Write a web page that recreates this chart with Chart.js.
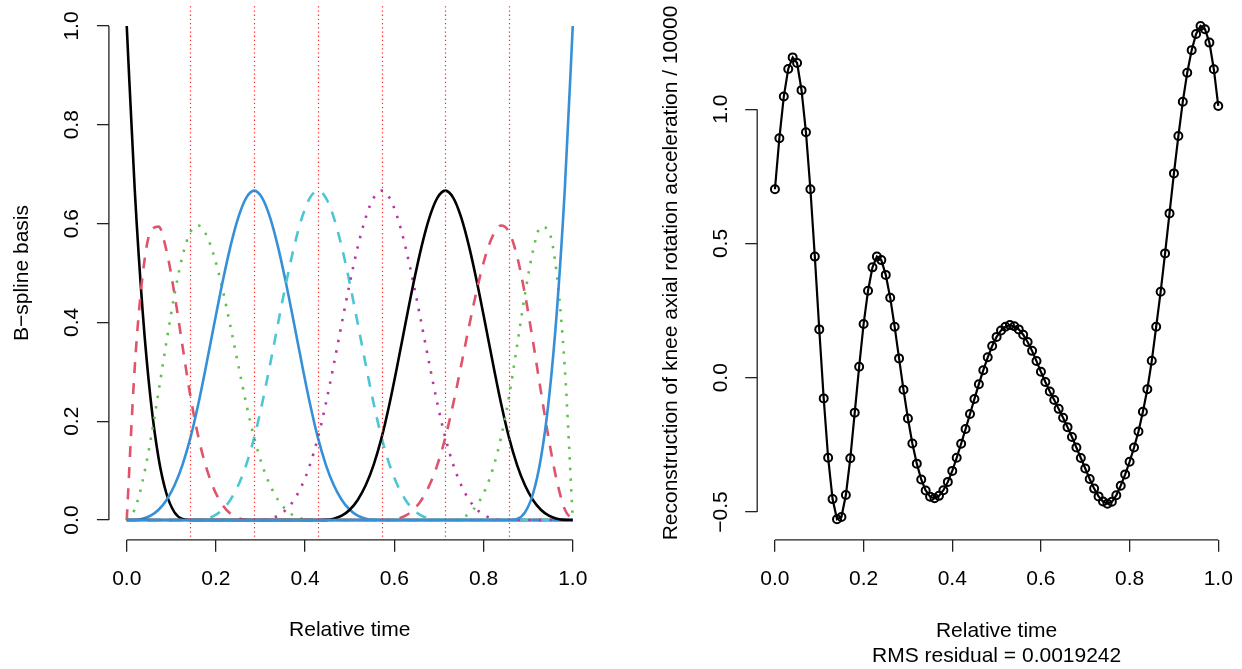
<!DOCTYPE html>
<html>
<head>
<meta charset="utf-8">
<title>B-spline basis / reconstruction</title>
<script src="https://cdn.jsdelivr.net/npm/chart.js@4.4.1/dist/chart.umd.min.js"></script>
<style>
  html, body { margin: 0; padding: 0; background: #fff; }
  #wrap { position: relative; width: 1242px; height: 669px; overflow: hidden; background: #fff; }
  canvas { position: absolute; top: 0; }
  #basis { left: 0; }
  #recon { left: 621px; }
</style>
</head>
<body>
<div id="wrap">
  <canvas id="basis" width="621" height="669"></canvas>
  <canvas id="recon" width="621" height="669"></canvas>
</div>
<script>
//---------------------------------------- LEFT PANEL: B-SPLINE BASIS ----------------------------------------
// evaluation grid (relative time)
const timeGrid = [
  0, 0.017857, 0.035714, 0.053571, 0.071429, 0.089286, 0.107143, 0.125,
  0.142857, 0.160714, 0.178571, 0.196429, 0.214286, 0.232143, 0.25, 0.267857,
  0.285714, 0.303571, 0.321429, 0.339286, 0.357143, 0.375, 0.392857, 0.410714,
  0.428571, 0.446429, 0.464286, 0.482143, 0.5, 0.517857, 0.535714, 0.553571,
  0.571429, 0.589286, 0.607143, 0.625, 0.642857, 0.660714, 0.678571, 0.696429,
  0.714286, 0.732143, 0.75, 0.767857, 0.785714, 0.803571, 0.821429, 0.839286,
  0.857143, 0.875, 0.892857, 0.910714, 0.928571, 0.946429, 0.964286, 0.982143,
  1
]

const basis1 = [
  1, 0.6699, 0.4219, 0.2441, 0.125, 0.0527, 0.0156, 0.002,
  0, 0, 0, 0, 0, 0, 0, 0,
  0, 0, 0, 0, 0, 0, 0, 0,
  0, 0, 0, 0, 0, 0, 0, 0,
  0, 0, 0, 0, 0, 0, 0, 0,
  0, 0, 0, 0, 0, 0, 0, 0,
  0, 0, 0, 0, 0, 0, 0, 0,
  0
]
const basis2 = [
  0, 0.3081, 0.4961, 0.5845, 0.5938, 0.5444, 0.457, 0.3521,
  0.25, 0.1675, 0.1055, 0.061, 0.0313, 0.0132, 0.0039, 0.0005,
  0, 0, 0, 0, 0, 0, 0, 0,
  0, 0, 0, 0, 0, 0, 0, 0,
  0, 0, 0, 0, 0, 0, 0, 0,
  0, 0, 0, 0, 0, 0, 0, 0,
  0, 0, 0, 0, 0, 0, 0, 0,
  0
]
const basis3 = [
  0, 0.0216, 0.0794, 0.1626, 0.2604, 0.3621, 0.457, 0.5343,
  0.5833, 0.5962, 0.5768, 0.5321, 0.4688, 0.3937, 0.3138, 0.2358,
  0.1667, 0.1117, 0.0703, 0.0407, 0.0208, 0.0088, 0.0026, 0.0003,
  0, 0, 0, 0, 0, 0, 0, 0,
  0, 0, 0, 0, 0, 0, 0, 0,
  0, 0, 0, 0, 0, 0, 0, 0,
  0, 0, 0, 0, 0, 0, 0, 0,
  0
]
const basis4 = [
  0, 0.0003, 0.0026, 0.0088, 0.0208, 0.0407, 0.0703, 0.1117,
  0.1667, 0.236, 0.3151, 0.3981, 0.4792, 0.5524, 0.612, 0.652,
  0.6667, 0.652, 0.612, 0.5524, 0.4792, 0.3981, 0.3151, 0.236,
  0.1667, 0.1117, 0.0703, 0.0407, 0.0208, 0.0088, 0.0026, 0.0003,
  0, 0, 0, 0, 0, 0, 0, 0,
  0, 0, 0, 0, 0, 0, 0, 0,
  0, 0, 0, 0, 0, 0, 0, 0,
  0
]
const basis5 = [
  0, 0, 0, 0, 0, 0, 0, 0,
  0, 0.0003, 0.0026, 0.0088, 0.0208, 0.0407, 0.0703, 0.1117,
  0.1667, 0.236, 0.3151, 0.3981, 0.4792, 0.5524, 0.612, 0.652,
  0.6667, 0.652, 0.612, 0.5524, 0.4792, 0.3981, 0.3151, 0.236,
  0.1667, 0.1117, 0.0703, 0.0407, 0.0208, 0.0088, 0.0026, 0.0003,
  0, 0, 0, 0, 0, 0, 0, 0,
  0, 0, 0, 0, 0, 0, 0, 0,
  0
]
const basis6 = [
  0, 0, 0, 0, 0, 0, 0, 0,
  0, 0, 0, 0, 0, 0, 0, 0,
  0, 0.0003, 0.0026, 0.0088, 0.0208, 0.0407, 0.0703, 0.1117,
  0.1667, 0.236, 0.3151, 0.3981, 0.4792, 0.5524, 0.612, 0.652,
  0.6667, 0.652, 0.612, 0.5524, 0.4792, 0.3981, 0.3151, 0.236,
  0.1667, 0.1117, 0.0703, 0.0407, 0.0208, 0.0088, 0.0026, 0.0003,
  0, 0, 0, 0, 0, 0, 0, 0,
  0
]
const basis7 = [
  0, 0, 0, 0, 0, 0, 0, 0,
  0, 0, 0, 0, 0, 0, 0, 0,
  0, 0, 0, 0, 0, 0, 0, 0,
  0, 0.0003, 0.0026, 0.0088, 0.0208, 0.0407, 0.0703, 0.1117,
  0.1667, 0.236, 0.3151, 0.3981, 0.4792, 0.5524, 0.612, 0.652,
  0.6667, 0.652, 0.612, 0.5524, 0.4792, 0.3981, 0.3151, 0.236,
  0.1667, 0.1117, 0.0703, 0.0407, 0.0208, 0.0088, 0.0026, 0.0003,
  0
]
const basis8 = [
  0, 0, 0, 0, 0, 0, 0, 0,
  0, 0, 0, 0, 0, 0, 0, 0,
  0, 0, 0, 0, 0, 0, 0, 0,
  0, 0, 0, 0, 0, 0, 0, 0,
  0, 0.0003, 0.0026, 0.0088, 0.0208, 0.0407, 0.0703, 0.1117,
  0.1667, 0.2358, 0.3138, 0.3937, 0.4688, 0.5321, 0.5768, 0.5962,
  0.5833, 0.5343, 0.457, 0.3621, 0.2604, 0.1626, 0.0794, 0.0216,
  0
]
const basis9 = [
  0, 0, 0, 0, 0, 0, 0, 0,
  0, 0, 0, 0, 0, 0, 0, 0,
  0, 0, 0, 0, 0, 0, 0, 0,
  0, 0, 0, 0, 0, 0, 0, 0,
  0, 0, 0, 0, 0, 0, 0, 0,
  0, 0.0005, 0.0039, 0.0132, 0.0313, 0.061, 0.1055, 0.1675,
  0.25, 0.3521, 0.457, 0.5444, 0.5938, 0.5845, 0.4961, 0.3081,
  0
]
const basis10 = [
  0, 0, 0, 0, 0, 0, 0, 0,
  0, 0, 0, 0, 0, 0, 0, 0,
  0, 0, 0, 0, 0, 0, 0, 0,
  0, 0, 0, 0, 0, 0, 0, 0,
  0, 0, 0, 0, 0, 0, 0, 0,
  0, 0, 0, 0, 0, 0, 0, 0,
  0, 0.002, 0.0156, 0.0527, 0.125, 0.2441, 0.4219, 0.6699,
  1
]
const basisSeries = [basis1, basis2, basis3, basis4, basis5, basis6, basis7, basis8, basis9, basis10]

// interior knots (red dotted verticals)
const knots = [0.142857, 0.285714, 0.428571, 0.571429, 0.714286, 0.857143]

const timeTicks = [0, 0.2, 0.4, 0.6, 0.8, 1]
const timeTickLabels = ['0.0', '0.2', '0.4', '0.6', '0.8', '1.0']
const basisTicks = [0, 0.2, 0.4, 0.6, 0.8, 1]
const basisTickLabels = ['0.0', '0.2', '0.4', '0.6', '0.8', '1.0']

//---------------------------------------- RIGHT PANEL: RECONSTRUCTION ----------------------------------------
const reconTime = [
  0.00, 0.01, 0.02, 0.03, 0.04, 0.05, 0.06, 0.07, 0.08, 0.09,
  0.10, 0.11, 0.12, 0.13, 0.14, 0.15, 0.16, 0.17, 0.18, 0.19,
  0.20, 0.21, 0.22, 0.23, 0.24, 0.25, 0.26, 0.27, 0.28, 0.29,
  0.30, 0.31, 0.32, 0.33, 0.34, 0.35, 0.36, 0.37, 0.38, 0.39,
  0.40, 0.41, 0.42, 0.43, 0.44, 0.45, 0.46, 0.47, 0.48, 0.49,
  0.50, 0.51, 0.52, 0.53, 0.54, 0.55, 0.56, 0.57, 0.58, 0.59,
  0.60, 0.61, 0.62, 0.63, 0.64, 0.65, 0.66, 0.67, 0.68, 0.69,
  0.70, 0.71, 0.72, 0.73, 0.74, 0.75, 0.76, 0.77, 0.78, 0.79,
  0.80, 0.81, 0.82, 0.83, 0.84, 0.85, 0.86, 0.87, 0.88, 0.89,
  0.90, 0.91, 0.92, 0.93, 0.94, 0.95, 0.96, 0.97, 0.98, 0.99,
  1.00
]
const reconValues = [
  0.702, 0.892, 1.047, 1.150, 1.193, 1.172, 1.071, 0.914, 0.702, 0.451,
  0.180, -0.077, -0.298, -0.452, -0.527, -0.519, -0.437, -0.300, -0.130, 0.041,
  0.200, 0.324, 0.411, 0.451, 0.438, 0.383, 0.298, 0.190, 0.072, -0.045,
  -0.152, -0.245, -0.320, -0.379, -0.420, -0.443, -0.449, -0.440, -0.419, -0.388,
  -0.347, -0.298, -0.246, -0.191, -0.135, -0.079, -0.024, 0.028, 0.076, 0.118,
  0.152, 0.176, 0.190, 0.196, 0.192, 0.180, 0.160, 0.133, 0.100, 0.062,
  0.022, -0.016, -0.051, -0.083, -0.116, -0.149, -0.184, -0.221, -0.260, -0.299,
  -0.338, -0.377, -0.413, -0.442, -0.461, -0.469, -0.462, -0.438, -0.402, -0.360,
  -0.313, -0.260, -0.200, -0.127, -0.043, 0.063, 0.190, 0.320, 0.463, 0.612,
  0.761, 0.900, 1.028, 1.136, 1.220, 1.280, 1.310, 1.298, 1.248, 1.149,
  1.012
]
const reconTicks = [-0.5, 0, 0.5, 1]
const reconTickLabels = ['\u22120.5', '0.0', '0.5', '1.0']
const reconYMin = -0.6036
const reconYMax = 1.3836

//---------------------------------------- STYLE ----------------------------------------
const FONT = "'Liberation Sans', Arial, Helvetica, sans-serif"
Chart.defaults.font.family = FONT
Chart.defaults.font.size = 21
Chart.defaults.color = '#000'

const seriesColors = ['#000000', '#DF536B', '#61C04F', '#3590D8', '#4CC6D2', '#B8379F']
const seriesDash = [[], [11, 10], [2.4, 8.2]]

// R-style axis line: only from first to last tick
const rAxes = {
  id: 'rAxes',
  afterDraw(chart) {
    const { ctx, chartArea } = chart
    const x = chart.scales.x
    const y = chart.scales.y
    const xs = x.ticks.map(t => x.getPixelForValue(t.value))
    const ys = y.ticks.map(t => y.getPixelForValue(t.value))
    ctx.save()
    ctx.strokeStyle = '#222'
    ctx.lineWidth = 1.3
    ctx.beginPath()
    ctx.moveTo(xs[0], chartArea.bottom)
    ctx.lineTo(xs[xs.length - 1], chartArea.bottom)
    ctx.moveTo(chartArea.left, ys[0])
    ctx.lineTo(chartArea.left, ys[ys.length - 1])
    ctx.stroke()
    ctx.restore()
  }
}

// knot positions as dotted red verticals over the plot region
const knotLines = {
  id: 'knotLines',
  afterDatasetsDraw(chart) {
    const { ctx, chartArea } = chart
    const x = chart.scales.x
    ctx.save()
    ctx.strokeStyle = '#FF2A2A'
    ctx.lineWidth = 1.2
    ctx.setLineDash([1.3, 2.9])
    knots.forEach(k => {
      const px = Math.round(x.getPixelForValue(k)) + 0.5
      ctx.beginPath()
      ctx.moveTo(px, chartArea.top)
      ctx.lineTo(px, chartArea.bottom)
      ctx.stroke()
    })
    ctx.restore()
  }
}

// scale boxes get a fixed size and no extra label padding, so the plot region sits where R put it
function fixBox(s, w, h) {
  if (w !== null) s.width = w
  if (h !== null) s.height = h
  s.paddingTop = 0
  s.paddingBottom = 0
  s.paddingLeft = 0
  s.paddingRight = 0
}

function axisX(ticks, labels, title, titlePad, height) {
  return {
    type: 'linear',
    position: 'bottom',
    min: -0.04,
    max: 1.04,
    afterBuildTicks: s => { s.ticks = ticks.map(v => ({ value: v })) },
    afterFit: s => fixBox(s, null, height),
    border: { display: false },
    grid: { drawOnChartArea: false, drawTicks: true, tickLength: 12, color: '#222', lineWidth: 1.3 },
    ticks: {
      autoSkip: false,
      maxRotation: 0,
      padding: 15,
      color: '#000',
      font: { size: 21 },
      callback: (v, i) => labels[i]
    },
    title: { display: true, text: title, color: '#000', font: { size: 21 }, padding: { top: 0, bottom: titlePad } }
  }
}

function axisY(min, max, ticks, labels, title, titlePad, width, labelPad) {
  return {
    type: 'linear',
    position: 'left',
    min: min,
    max: max,
    afterBuildTicks: s => { s.ticks = ticks.map(v => ({ value: v })) },
    afterFit: s => fixBox(s, width, null),
    border: { display: false },
    grid: { drawOnChartArea: false, drawTicks: true, tickLength: 12, color: '#222', lineWidth: 1.3 },
    ticks: {
      autoSkip: false,
      minRotation: 90,
      maxRotation: 90,
      crossAlign: 'center',
      padding: labelPad,
      color: '#000',
      font: { size: 21 },
      callback: (v, i) => labels[i]
    },
    title: { display: true, text: title, color: '#000', font: { size: 21 }, padding: { top: titlePad, bottom: 0 } }
  }
}

//---------------------------------------- LEFT CHART ----------------------------------------
new Chart(document.getElementById('basis'), {
  type: 'line',
  data: {
    datasets: basisSeries.map((ys, k) => ({
      data: timeGrid.map((t, i) => ({ x: t, y: ys[i] })),
      borderColor: seriesColors[k % 6],
      borderWidth: 2.6,
      borderDash: seriesDash[k % 3],
      borderCapStyle: 'butt',
      pointRadius: 0,
      fill: false,
      cubicInterpolationMode: 'monotone',
      order: basisSeries.length - k
    }))
  },
  options: {
    responsive: false,
    animation: false,
    devicePixelRatio: 1,
    events: [],
    layout: { padding: { left: 0, top: 6.2, right: 30.4, bottom: 0 } },
    plugins: { legend: { display: false }, tooltip: { enabled: false } },
    scales: {
      x: axisX(timeTicks, timeTickLabels, 'Relative time', 26.4, 129.2),
      y: axisY(-0.04, 1.04, basisTicks, basisTickLabels, 'B\u2212spline basis', 10, 108.9, 10.6)
    }
  },
  plugins: [knotLines, rAxes]
})

//---------------------------------------- RIGHT CHART ----------------------------------------
new Chart(document.getElementById('recon'), {
  type: 'line',
  data: {
    datasets: [{
      data: reconTime.map((t, i) => ({ x: t, y: reconValues[i] })),
      borderColor: '#000',
      borderWidth: 2.2,
      tension: 0,
      fill: false,
      pointStyle: 'circle',
      pointRadius: 4,
      pointBorderWidth: 2,
      pointBorderColor: '#000',
      pointBackgroundColor: 'rgba(0,0,0,0)'
    }]
  },
  options: {
    responsive: false,
    animation: false,
    devicePixelRatio: 1,
    events: [],
    layout: { padding: { left: 0, top: 6.2, right: 3.2, bottom: 0 } },
    plugins: { legend: { display: false }, tooltip: { enabled: false } },
    scales: {
      x: axisX(timeTicks, timeTickLabels, ['Relative time', 'RMS residual = 0.0019242'], 0.2, 129.2),
      y: axisY(reconYMin, reconYMax, reconTicks, reconTickLabels,
        'Reconstruction of knee axial rotation acceleration / 10000', 38.1, 136.2, 3.5)
    }
  },
  plugins: [rAxes]
})
</script>
</body>
</html>
